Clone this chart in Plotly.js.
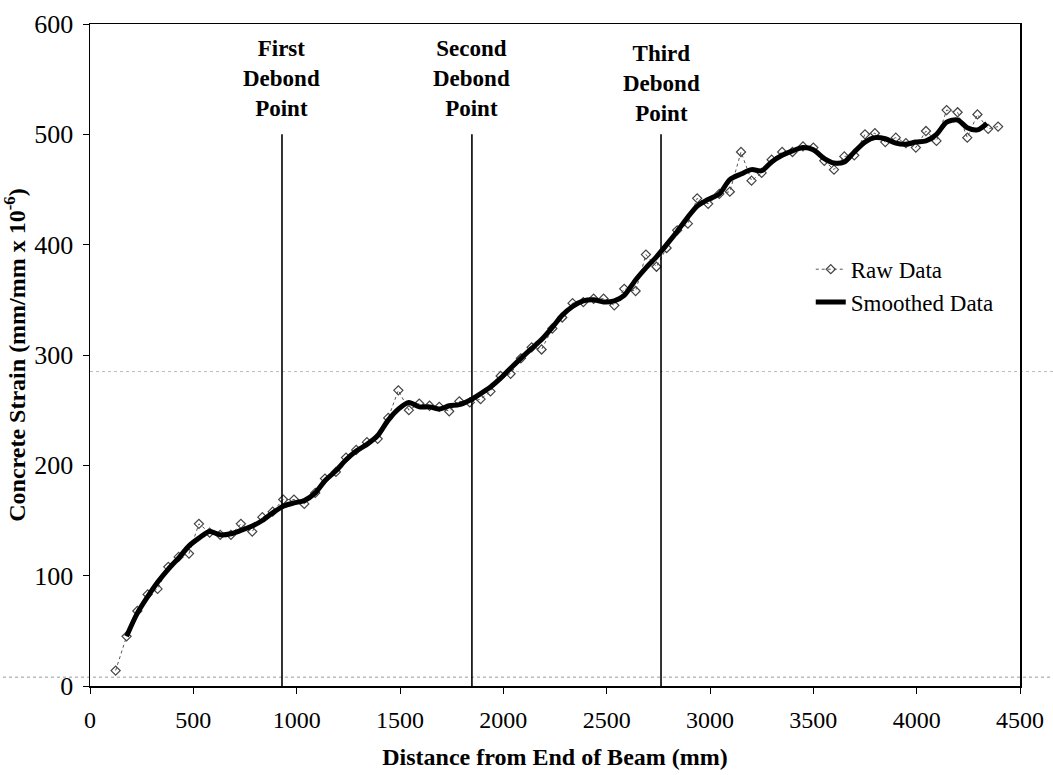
<!DOCTYPE html>
<html>
<head>
<meta charset="utf-8">
<script src="https://cdn.plot.ly/plotly-3.0.1.min.js"></script>
<style>html,body{margin:0;padding:0;background:#fff;}#chart{width:1053px;height:775px;}</style>
</head>
<body>
<div id="chart"></div>
<script>
// Distance from end of beam (mm) for raw gauge readings
const xRaw = [124,177,229,279,327,379,429,479,527,579,630,682,730,785,834,884,935,987,1037,1090,1137,1190,1239,1288,1340,1392,1443,1492,1543,1593,1643,1690,1738,1787,1838,1890,1938,1987,2035,2085,2137,2185,2237,2285,2335,2387,2437,2485,2537,2585,2640,2690,2741,2790,2841,2893,2938,2991,3045,3096,3150,3201,3250,3298,3349,3399,3450,3500,3553,3600,3650,3698,3750,3798,3848,3899,3948,3996,4045,4096,4145,4198,4245,4294,4346,4394];
// Raw concrete strain (mm/mm x 10^-6)
const yRaw = [14,45,68,83,88,108,117,120,147,139,137,137,147,140,153,158,169,169,165,175,188,194,207,214,221,224,243,268,250,256,254,253,249,258,257,260,267,281,283,297,307,305,324,334,347,348,351,351,345,360,358,391,380,397,413,419,442,437,446,448,484,458,465,477,484,484,489,488,476,468,480,481,500,501,493,497,492,488,503,494,522,520,497,518,505,507];
// Smoothed curve
const xSmooth = [177,229,279,327,379,429,479,527,579,630,682,730,785,834,884,935,987,1037,1090,1137,1190,1239,1288,1340,1392,1443,1492,1543,1593,1643,1690,1738,1787,1838,1890,1938,1987,2035,2085,2137,2185,2237,2285,2335,2387,2437,2485,2537,2585,2640,2690,2741,2790,2841,2893,2938,2991,3045,3096,3150,3201,3250,3298,3349,3399,3450,3500,3553,3600,3650,3698,3750,3798,3848,3899,3948,3996,4045,4096,4145,4198,4245,4294,4340];
const ySmooth = [45,66,81,94,106,116,127,134,140,137,138,141,145,150,157,163,166,168,175,186,195,205,213,219,227,241,251,257,253,253,251,254,255,259,265,271,279,288,297,306,314,325,336,344,349,350,348,349,354,368,379,389,400,412,425,435,441,446,459,464,468,467,475,481,485,488,486,478,474,475,484,493,497,496,492,491,493,494,500,511,513,506,504,510];
// Debond points
const debondX = [929, 1848, 2763];
const debondTop = 500;
const debondLabels = ["First<br>Debond<br>Point", "Second<br>Debond<br>Point", "Third<br>Debond<br>Point"];
const xTicks = [0,500,1000,1500,2000,2500,3000,3500,4000,4500];
const yTicks = [0,100,200,300,400,500,600];

const serif = "Liberation Serif, Times New Roman, serif";

const traces = [
  {x: xRaw, y: yRaw, name: "Raw Data", type: "scatter", mode: "lines+markers",
   line: {color: "#555", width: 1, dash: "dot"},
   marker: {symbol: "diamond-open", size: 7, color: "#444", line: {width: 1.2, color: "#444"}}},
  {x: xSmooth, y: ySmooth, name: "Smoothed Data", type: "scatter", mode: "lines",
   line: {color: "#000", width: 5, shape: "spline", smoothing: 0.8}}
];

const shapes = debondX.map(x => ({type: "line", xref: "x", yref: "y", x0: x, x1: x, y0: 0, y1: debondTop,
  line: {color: "#000", width: 1.6}}));
// faint scan lines
shapes.push({type: "line", xref: "paper", yref: "y", x0: 0, x1: 1.04, y0: 285, y1: 285, line: {color: "#bbb", width: 1, dash: "dot"}, layer: "below"});
shapes.push({type: "line", xref: "paper", yref: "y", x0: -0.1, x1: 1.04, y0: 8, y1: 8, line: {color: "#999", width: 1, dash: "dot"}, layer: "below"});

const annotations = debondX.map((x, i) => ({x: x, y: debondTop, xref: "x", yref: "y", text: "<b>" + debondLabels[i] + "</b>",
  showarrow: false, yanchor: "bottom", yshift: i === 2 ? 6 : 11,
  font: {family: serif, size: 23, color: "#000"}}));

const layout = {
  width: 1053, height: 775,
  margin: {l: 90, r: 33, t: 24, b: 89},
  paper_bgcolor: "#fff", plot_bgcolor: "#fff",
  font: {family: serif, color: "#000"},
  showlegend: true,
  legend: {x: 0.775, y: 0.662, xanchor: "left", yanchor: "top", bgcolor: "rgba(0,0,0,0)",
    font: {family: serif, size: 23, color: "#000"}, itemwidth: 30, tracegroupgap: 0},
  xaxis: {range: [0, 4500], tickvals: xTicks, ticktext: xTicks.map(String), ticks: "outside", ticklen: 6,
    tickcolor: "#000", showline: true, linecolor: "#000", linewidth: 1.5, mirror: true, showgrid: false,
    zeroline: false, tickfont: {family: serif, size: 24}, ticklabelstandoff: 6,
    title: {text: "<b>Distance from End of Beam (mm)</b>", font: {family: serif, size: 24}, standoff: 16}},
  yaxis: {range: [0, 600], tickvals: yTicks, ticks: "outside", ticklen: 6, tickcolor: "#000",
    showline: true, linecolor: "#000", linewidth: 1.5, mirror: true, showgrid: false, zeroline: false,
    tickfont: {family: serif, size: 26}, ticklabelstandoff: 4,
    title: {text: "<b>Concrete Strain (mm/mm x 10<sup>-6</sup>)</b>", font: {family: serif, size: 24}, standoff: 6}},
  shapes: shapes,
  annotations: annotations
};

Plotly.newPlot("chart", traces, layout, {displayModeBar: false, staticPlot: true});
</script>
</body>
</html>
